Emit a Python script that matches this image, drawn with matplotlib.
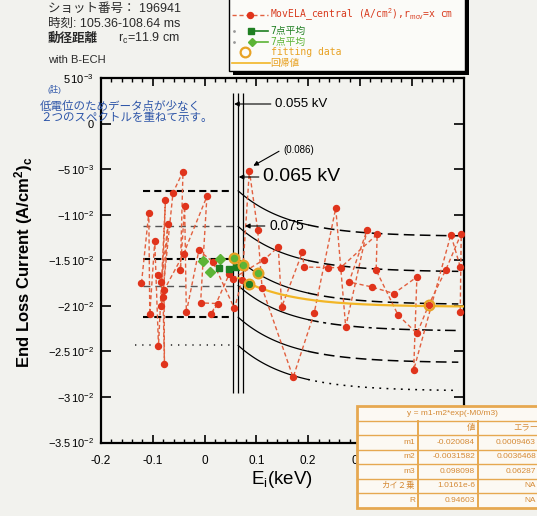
import numpy as np
import matplotlib
matplotlib.use("Agg")
import matplotlib.pyplot as plt
from matplotlib.patches import Rectangle
from matplotlib.lines import Line2D
from matplotlib.ticker import FixedLocator, MultipleLocator

plt.rcParams['font.family'] = ['Liberation Sans', 'Noto Sans CJK JP']
plt.rcParams['mathtext.fontset'] = 'custom'
plt.rcParams['mathtext.rm'] = 'Liberation Sans'
plt.rcParams['mathtext.it'] = 'Liberation Sans:italic'
plt.rcParams['mathtext.bf'] = 'Liberation Sans:bold'

# ---- measured end-loss spectra (two sweeps overlaid) ----
spec1_e = [-0.1218, -0.1077, -0.1058, -0.0962, -0.0890, -0.0756, -0.0833, -0.0610,
           -0.0417, -0.0467, -0.0385, -0.0352, -0.0110, 0.0160, 0.0577, 0.0725,
           0.0865, 0.1025, 0.1110, 0.1710, 0.2115, 0.2533, 0.2725, 0.3140,
           0.2790, 0.3225, 0.3654, 0.4100, 0.4038, 0.4756, 0.4937]
spec1_j = [-0.01747, -0.00975, -0.02093, -0.01286, -0.02440, -0.00840, -0.02000, -0.00756,
           -0.00522, -0.01600, -0.00906, -0.02071, -0.01388, -0.01516, -0.02027, -0.01717,
           -0.00514, -0.01161, -0.01800, -0.02784, -0.02082, -0.00924, -0.02230, -0.01161,
           -0.01736, -0.01790, -0.01863, -0.01681, -0.02704, -0.01216, -0.01571]
spec2_e = [-0.0890, -0.0833, -0.0706, -0.0802, -0.0775, -0.0783, -0.0404, 0.0045,
           -0.0077, 0.0256, 0.0129, 0.0480, 0.0545, 0.1150, 0.1423, 0.1490,
           0.1890, 0.1920, 0.2390, 0.2628, 0.3333, 0.3313, 0.3737, 0.4102,
           0.4327, 0.4660, 0.4956, 0.4937]
spec2_j = [-0.01662, -0.01735, -0.01103, -0.01900, -0.02638, -0.01827, -0.01425, -0.00796,
           -0.01966, -0.01973, -0.02093, -0.01644, -0.01699, -0.01490, -0.01352, -0.02010,
           -0.01407, -0.01571, -0.01578, -0.01578, -0.01213, -0.01607, -0.02100, -0.02302,
           -0.01990, -0.01600, -0.01205, -0.02065]

# 7-point averages
avg_sq_e = [0.0275, 0.0467, 0.0600, 0.0865]
avg_sq_j = [-0.01578, -0.01589, -0.01575, -0.01753]
avg_dm_e = [-0.0030, 0.0110, 0.0300, 0.0563, 0.0737, 0.1038]
avg_dm_j = [-0.01510, -0.01626, -0.01480, -0.01468, -0.01545, -0.01637]

# points used for the fit
fit_e = [0.0563, 0.0737, 0.0865, 0.1038, 0.4327]
fit_j = [-0.01468, -0.01545, -0.01753, -0.01637, -0.01990]

# fit result  y = m1 - m2*exp(-M0/m3)
fit_names = ["m1", "m2", "m3"]
fit_vals = [-0.020084, -0.0031582, 0.098098]
fit_errs = ["0.0009463", "0.0036468", "0.06287"]
chi2_txt = "1.0161e-6"
r_txt = "0.94603"

# reference levels left of the cut and their decay to the right
levels = [-0.00735, -0.01126, -0.01484, -0.01776, -0.02124, -0.02434]
level_drop = 0.005
cut_energies = [0.055, 0.065, 0.075]
curve_start = 0.065
curve_end = 0.49

xticks = [-0.2, -0.1, 0.0, 0.1, 0.2, 0.3, 0.4, 0.5]
xtick_labels = ["-0.2", "-0.1", "0", "0.1", "0.2", "0.3", "0.4", "0.5"]
yticks = [0.005, 0.0, -0.005, -0.01, -0.015, -0.02, -0.025, -0.03, -0.035]
ytick_labels = [r"$5\,10^{-3}$", "0", r"$-5\,10^{-3}$", r"$-1\,10^{-2}$", r"$-1.5\,10^{-2}$",
                r"$-2\,10^{-2}$", r"$-2.5\,10^{-2}$", r"$-3\,10^{-2}$", r"$-3.5\,10^{-2}$"]

paper = '#f2f2ee'
red = '#e0341c'
red_line = '#e2603f'
dkgreen = '#1f7f22'
ltgreen = '#5cb436'
orange = '#e8a224'
fitline = '#f2b626'
blue = '#2d55a8'

W, H = 537, 516
fig = plt.figure(figsize=(W / 100, H / 100), dpi=100, facecolor=paper)
L, R, T, B = 101, 463.5, 78.5, 442.5
ax = fig.add_axes([L / W, 1 - B / H, (R - L) / W, (B - T) / H])
ax.set_facecolor(paper)
ax.set_xlim(-0.2, 0.5)
ax.set_ylim(-0.035, 0.005)

for s in ax.spines.values():
    s.set_linewidth(1.6)
ax.xaxis.set_major_locator(FixedLocator(xticks))
ax.xaxis.set_minor_locator(MultipleLocator(0.02))
ax.set_xticklabels(xtick_labels, fontsize=8.5)
ax.yaxis.set_major_locator(FixedLocator(yticks))
ax.set_yticklabels(ytick_labels, fontsize=8)
ax.tick_params(which='both', direction='in', top=True, right=True)
ax.tick_params(axis='x', which='major', length=6, width=1.2, pad=9)
ax.tick_params(axis='x', which='minor', length=3, width=1.0)
ax.tick_params(axis='y', which='major', length=7, width=1.2, pad=5)

# cut lines
ax.vlines(cut_energies, -0.0296, 0.0034, colors='k', lw=0.9, zorder=3)

# reference levels: flat part, then decaying curve
left_styles = [
    dict(color='k', lw=1.5, dashes=(3.4, 2.0)),
    dict(color='#555555', lw=1.0, dashes=(5.0, 3.5)),
    dict(color='k', lw=1.5, dashes=(3.4, 2.0)),
    dict(color='#555555', lw=1.0, dashes=(5.0, 3.5)),
    dict(color='k', lw=1.5, dashes=(3.4, 2.0)),
    dict(color='#333333', lw=1.2, dashes=(0.8, 3.5)),
]
right_dashes = [(7, 3.5), (7, 3.5), (7, 3.5), (7, 3, 2, 3), (7, 3.5), (1.2, 3.5)]
left_start = [-0.119, -0.119, -0.119, -0.119, -0.119, -0.135]
for lev, st, x0, rd in zip(levels, left_styles, left_start, right_dashes):
    ax.plot([x0, cut_energies[0]], [lev, lev], zorder=2, **st)
    xs = np.linspace(curve_start, 0.20, 60)
    ys = lev - level_drop * (1 - np.exp(-(xs - curve_start) / fit_vals[2]))
    ax.plot(xs, ys, color='k', lw=0.9, zorder=2)
    xs2 = np.linspace(0.20, curve_end, 80)
    ys2 = lev - level_drop * (1 - np.exp(-(xs2 - curve_start) / fit_vals[2]))
    ax.plot(xs2, ys2, color='k', lw=1.1, zorder=2, dashes=rd)

# measured spectra
for e, j in ((spec1_e, spec1_j), (spec2_e, spec2_j)):
    ax.plot(e, j, color=red_line, lw=1.0, dashes=(3, 2), zorder=4)
    ax.plot(e, j, ls='none', marker='o', ms=4.3, mfc=red, mec=red, zorder=5)

# fit curve
xf = np.linspace(curve_start, 0.5, 200)
yf = fit_vals[0] - fit_vals[1] * np.exp(-(xf - curve_start) / fit_vals[2])
ax.plot(xf, yf, color=fitline, lw=1.6, zorder=4)

# averages and fit points
ax.plot(avg_dm_e, avg_dm_j, marker='D', ms=5, mfc=ltgreen, mec=ltgreen, ls='none', zorder=6)
ax.plot(avg_sq_e, avg_sq_j, marker='s', ms=5, mfc=dkgreen, mec=dkgreen, ls='none', zorder=6)
ax.plot(fit_e, fit_j, ls='none', marker='o', ms=7, mfc='none', mec=orange, mew=1.6, zorder=7)

# annotations
def px2data(px, py):
    return (-0.2 + (px - L) / (R - L) * 0.7, 0.005 - (py - T) / (B - T) * 0.04)

arrow_kw = dict(arrowstyle='-|>', color='k', lw=0.8, shrinkA=1, shrinkB=0,
                mutation_scale=7, relpos=(0, 0.5))
ax.annotate("0.055 kV", xy=(0.057, px2data(0, 104)[1]), xytext=px2data(275, 104),
            fontsize=9.5, va='center', ha='left', arrowprops=arrow_kw, zorder=8)
ax.annotate("0.065 kV", xy=(0.066, px2data(0, 177)[1]), xytext=px2data(263, 177),
            fontsize=14, va='center', ha='left', arrowprops=arrow_kw, zorder=8)
ax.annotate("0.075", xy=(0.078, px2data(0, 226)[1]), xytext=px2data(269, 226),
            fontsize=10, va='center', ha='left', arrowprops=arrow_kw, zorder=8)
ax.annotate("(0.086)", xy=(spec1_e[16] + 0.003, spec1_j[16] + 0.0004), xytext=px2data(283, 150),
            fontsize=7, va='center', ha='left',
            arrowprops=dict(arrowstyle='-|>', color='k', lw=0.8, shrinkA=1, shrinkB=2,
                            mutation_scale=7, relpos=(0, 0.6)), zorder=8)

# axis titles
fig.text(24 / W, 1 - 262 / H, r"$\mathbf{End\ Loss\ Current\ (A/cm^2)_c}$",
         rotation=90, ha='center', va='center', fontsize=12)
fig.text(282 / W, 1 - 480 / H, r"E$_\mathrm{i}$(keV)", ha='center', va='center', fontsize=13.5)

# overlay in pixel coordinates for header, note, legend and table
ov = fig.add_axes([0, 0, 1, 1], zorder=10)
ov.set_xlim(0, W)
ov.set_ylim(H, 0)
ov.axis('off')
ov.patch.set_alpha(0)

ink = '#2a2a2a'
ov.text(48, 8.5, "ショット番号： 196941", fontsize=9, va='center', color=ink)
ov.text(48, 23.5, "時刻: 105.36-108.64 ms", fontsize=9, va='center', color=ink)
ov.text(48, 38.5, "動径距離", fontsize=9, va='center', color=ink, fontweight='bold')
ov.text(118, 38.5, r"r$_\mathrm{c}$=11.9 cm", fontsize=9, va='center', color=ink)
ov.text(48, 60, "with B-ECH", fontsize=8, va='center', color=ink)

ov.text(47, 90, "(註)", fontsize=6, va='center', color=blue)
ov.text(40, 107, "低電位のためデータ点が少なく", fontsize=8.3, va='center', color=blue)
ov.text(40, 118.5, "２つのスペクトルを重ねて示す。", fontsize=8.3, va='center', color=blue)

# legend box with drop shadow
ov.add_patch(Rectangle((233, -4), 236, 79, facecolor='k', edgecolor='none', zorder=1))
ov.add_patch(Rectangle((229, -8), 236, 79, facecolor='#fbfbf8', edgecolor='k', lw=1.0, zorder=2))
mono = ['DejaVu Sans Mono', 'Noto Sans CJK JP']
ov.add_line(Line2D([232, 268], [14.5, 14.5], color=red_line, lw=1.0, dashes=(3, 2), zorder=3))
ov.add_line(Line2D([250], [14.5], marker='o', ms=4.3, color=red, zorder=3))
ov.text(270, 14.5, r"MovELA_central (A/cm$^2$),r$_\mathrm{mov}$=x cm", fontsize=7,
        family=mono, color='#d83a1e', va='center', zorder=3)
ov.add_line(Line2D([251, 268], [31, 31], color=dkgreen, lw=1.2, marker='s', ms=5,
                   markevery=[0], zorder=3))
ov.add_line(Line2D([234], [31], marker='o', ms=1, color='#999999', zorder=3))
ov.text(270, 31, "7点平均", fontsize=7, family=mono, color=dkgreen, va='center', zorder=3)
ov.add_line(Line2D([252, 268], [41.5, 41.5], color=ltgreen, lw=1.2, marker='D', ms=4.5,
                   markevery=[0], zorder=3))
ov.add_line(Line2D([234], [41.5], marker='o', ms=1, color='#999999', zorder=3))
ov.text(270, 41.5, "7点平均", fontsize=7, family=mono, color=ltgreen, va='center', zorder=3)
ov.add_line(Line2D([245], [52.3], marker='o', ms=7, mfc='none', mec=orange, mew=1.6, zorder=3))
ov.text(271, 52.3, "fitting data", fontsize=7, family=mono, color=orange, va='center', zorder=3)
ov.add_line(Line2D([232, 270], [62.7, 62.7], color=fitline, lw=1.2, zorder=3))
ov.text(270, 62.7, "回帰値", fontsize=7, family=mono, color=orange, va='center', zorder=3)

# fit result table
tcol = '#e6a850'
ttxt = '#d58a35'
cols = [357, 418, 478, 548]
top, rh = 406, 14.5
nrows = 7
tfs = 6.0
ov.add_patch(Rectangle((cols[0], top), cols[-1] - cols[0], rh * nrows, facecolor='#fcf9f3',
                       edgecolor=tcol, lw=2.0, zorder=4))
for i in range(1, nrows):
    ov.add_line(Line2D([cols[0], cols[-1]], [top + i * rh] * 2, color=tcol, lw=1.0, zorder=5))
for c in cols[1:3]:
    ov.add_line(Line2D([c, c], [top + rh, top + rh * nrows], color=tcol, lw=1.4, zorder=5))

ov.text(452, top + rh / 2, "y = m1-m2*exp(-M0/m3)", fontsize=tfs, color=ttxt,
        ha='center', va='center', zorder=6)
ov.text(cols[2] - 3, top + 1.5 * rh, "値", fontsize=tfs, color=ttxt, ha='right', va='center', zorder=6)
ov.text(538, top + 1.5 * rh, "エラー", fontsize=tfs, color=ttxt, ha='right', va='center', zorder=6)
row_labels = fit_names + ["カイ２乗", "R"]
row_vals = [f"{v:g}" for v in fit_vals] + [chi2_txt, r_txt]
row_errs = fit_errs + ["NA", "NA"]
for i, (lab, val, err) in enumerate(zip(row_labels, row_vals, row_errs)):
    yc = top + (i + 2.5) * rh
    ov.text(cols[1] - 3, yc, lab, fontsize=tfs, color=ttxt, ha='right', va='center', zorder=6)
    ov.text(cols[2] - 3, yc, val, fontsize=tfs, color=ttxt, ha='right', va='center', zorder=6)
    ov.text(536, yc, err, fontsize=tfs, color=ttxt, ha='right', va='center', zorder=6)

fig.savefig("out.png", dpi=100, facecolor=paper)
